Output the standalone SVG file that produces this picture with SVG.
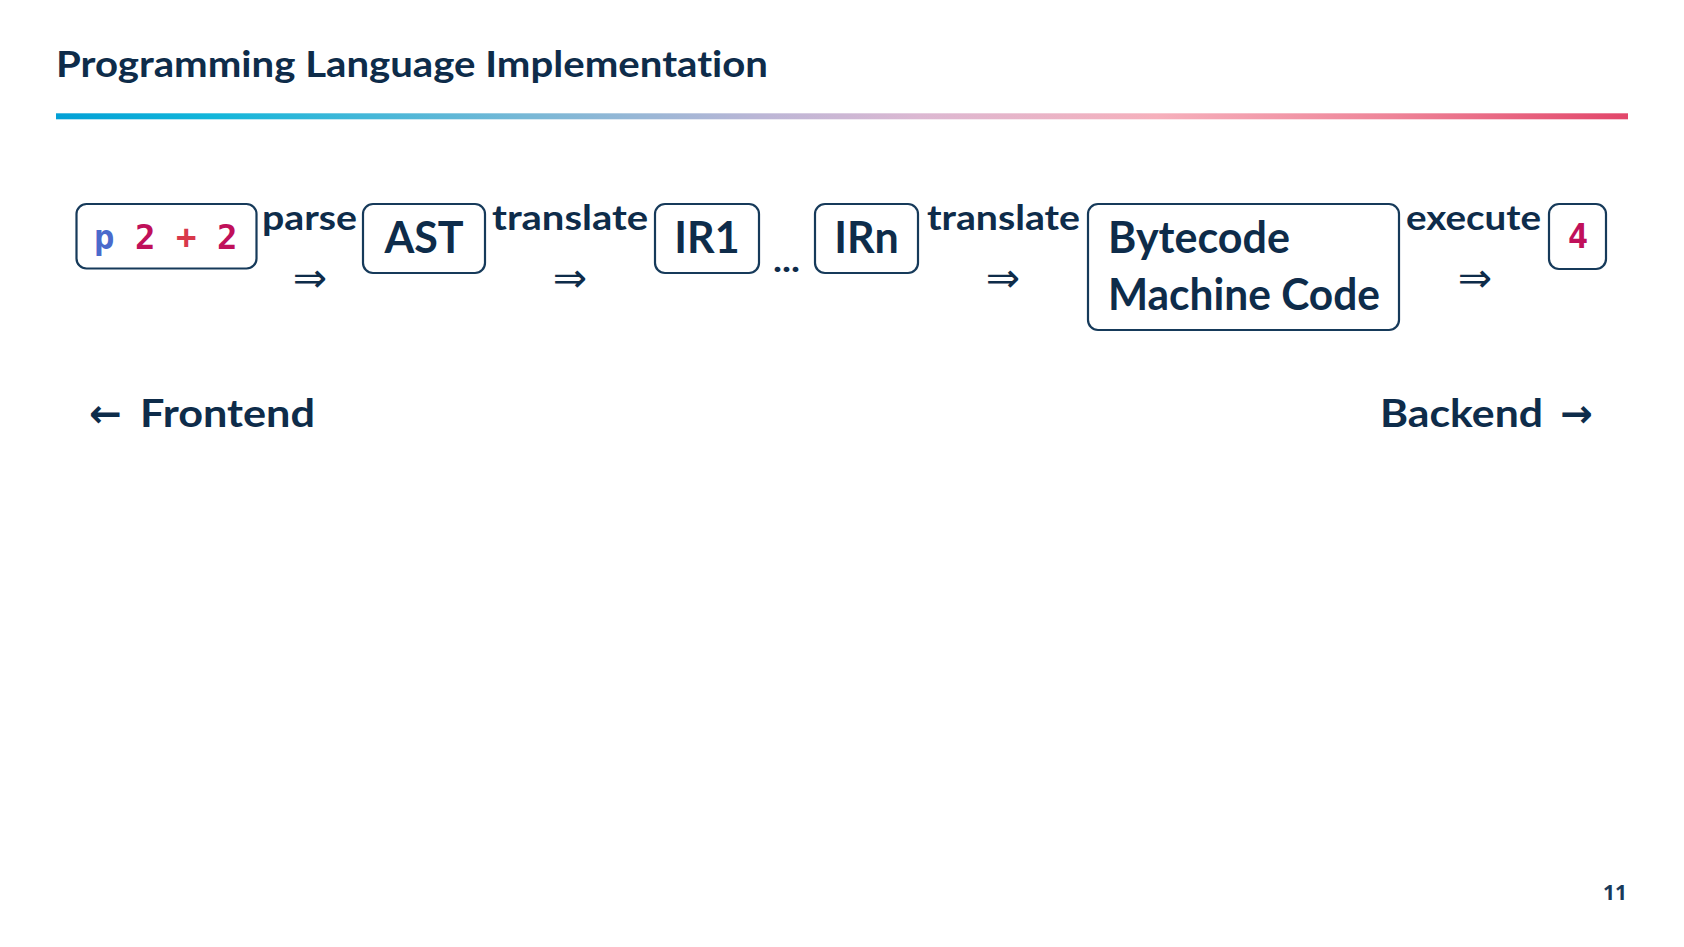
<svg xmlns="http://www.w3.org/2000/svg" width="1684" height="947" viewBox="0 0 1684 947">
<style>
  .bg { fill: #ffffff; }
  .box { fill: #ffffff; stroke: #163a5a; stroke-width: 2.2; }
  .t { font-family: Lato, "Noto Sans", "Liberation Sans", sans-serif; font-weight: 700; fill: #0e2c4a; font-variant-ligatures: none; }
  .node { font-size: 43px; }
  .edge { font-size: 35px; }
  .arr { font-family: "DejaVu Sans", sans-serif; font-weight: 400; font-size: 41px; fill: #0e2c4a; }
  .mono { font-family: "DejaVu Sans Mono", "Liberation Mono", monospace; font-weight: 700; font-size: 34px; }
  .kw { fill: #4a6acc; }
  .num { fill: #c0105a; }
  .op { fill: #d8384a; }
</style>
<defs>
  <linearGradient id="bar" x1="56" y1="0" x2="1628" y2="0" gradientUnits="userSpaceOnUse">
    <stop offset="0" stop-color="#02a0d6"/>
    <stop offset="0.1" stop-color="#12b6da"/>
    <stop offset="0.3" stop-color="#78b8d6"/>
    <stop offset="0.45" stop-color="#bcb6d6"/>
    <stop offset="0.55" stop-color="#dcb8d2"/>
    <stop offset="0.7" stop-color="#f6b0bc"/>
    <stop offset="0.85" stop-color="#ee8498"/>
    <stop offset="1" stop-color="#e2466a"/>
  </linearGradient>
</defs>
<rect class="bg" x="0" y="0" width="1684" height="947"/>

<g id="header">
  <text class="t" x="56" y="77" font-size="37" textLength="712" lengthAdjust="spacingAndGlyphs">Programming Language Implementation</text>
  <rect x="56" y="113.3" width="1572" height="6" fill="url(#bar)"/>
</g>

<g id="node-source">
  <rect class="box" x="76.5" y="204" width="180" height="64.5" rx="10"/>
  <text class="mono" x="94" y="249"><tspan class="kw">p</tspan><tspan class="num" x="135">2</tspan><tspan class="op" x="176">+</tspan><tspan class="num" x="217">2</tspan></text>
</g>

<g id="node-ast">
  <rect class="box" x="363" y="204" width="122" height="69" rx="10"/>
  <text class="t node" x="424" y="253.3" text-anchor="middle">AST</text>
</g>

<g id="node-ir1">
  <rect class="box" x="655" y="204" width="104" height="69" rx="10"/>
  <text class="t node" x="707" y="252.7" text-anchor="middle">IR1</text>
</g>

<g id="node-irn">
  <rect class="box" x="815" y="204" width="103" height="69" rx="10"/>
  <text class="t node" x="866.5" y="252.7" text-anchor="middle">IRn</text>
</g>

<g id="node-code">
  <rect class="box" x="1088" y="204" width="311" height="126" rx="10"/>
  <text class="t node" x="1108" y="252.7" textLength="182" lengthAdjust="spacingAndGlyphs">Bytecode</text>
  <text class="t node" x="1108" y="310" textLength="272" lengthAdjust="spacingAndGlyphs">Machine Code</text>
</g>

<g id="node-result">
  <rect class="box" x="1549" y="204" width="57" height="65" rx="10"/>
  <text class="mono num" x="1578" y="248" text-anchor="middle">4</text>
</g>

<g id="connectors">
  <text class="t edge" x="262" y="230" textLength="95" lengthAdjust="spacingAndGlyphs">parse</text>
  <text class="arr" x="310" y="292" text-anchor="middle">⇒</text>

  <text class="t edge" x="492" y="230" textLength="156" lengthAdjust="spacingAndGlyphs">translate</text>
  <text class="arr" x="570" y="292" text-anchor="middle">⇒</text>

  <text class="t edge" x="786.5" y="272" text-anchor="middle" textLength="27" lengthAdjust="spacingAndGlyphs">...</text>

  <text class="t edge" x="927" y="230" textLength="153" lengthAdjust="spacingAndGlyphs">translate</text>
  <text class="arr" x="1003" y="292" text-anchor="middle">⇒</text>

  <text class="t edge" x="1406" y="230" textLength="135" lengthAdjust="spacingAndGlyphs">execute</text>
  <text class="arr" x="1475" y="292" text-anchor="middle">⇒</text>
</g>

<g id="phases">
  <text class="t" x="89" y="426.7" font-size="39"><tspan font-family="DejaVu Sans" font-weight="700">←</tspan><tspan x="140" textLength="175" lengthAdjust="spacingAndGlyphs">Frontend</tspan></text>
  <text class="t" x="1380" y="426.7" font-size="39"><tspan textLength="163" lengthAdjust="spacingAndGlyphs">Backend</tspan><tspan x="1560" font-family="DejaVu Sans" font-weight="700">→</tspan></text>
</g>

<g id="footer">
  <text x="1627" y="900" text-anchor="end" font-family="'Open Sans', 'Noto Sans', sans-serif" font-weight="700" font-size="21" fill="#1a3a5a">11</text>
</g>
</svg>
